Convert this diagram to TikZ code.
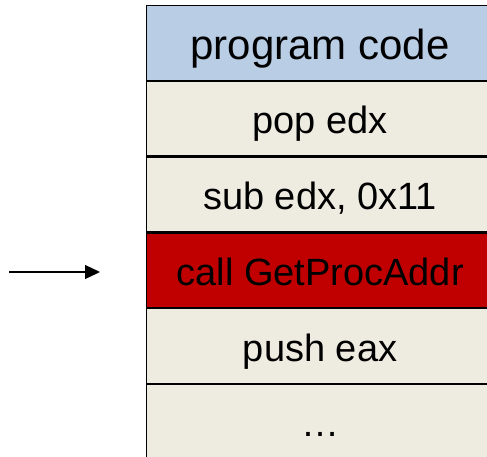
\documentclass[tikz,border=0pt]{standalone}
\usepackage{fontspec}
\setmainfont{Liberation Sans}
\usetikzlibrary{positioning, arrows.meta}

\definecolor{headblue}{HTML}{B9CDE5}
\definecolor{rowbeige}{HTML}{EEECE1}
\definecolor{hotred}{HTML}{C00000}

\begin{document}
\begin{tikzpicture}[
    x=1pt, y=1pt,
    node distance=0pt,
    row/.style={draw, line width=1.2pt, fill=rowbeige, minimum width=348pt, minimum height=74.6pt,
      inner sep=0pt, text height=30pt, text depth=0pt, font=\fontsize{38}{41}\selectfont},
    head/.style={row, fill=headblue, text height=33pt, font=\fontsize{42}{46}\selectfont},
    hot/.style={row, fill=hotred},
    >={Triangle[length=15pt, width=14pt]}
]
  \clip (0,0) rectangle (487,-456);
  \useasboundingbox (0,0) rectangle (487,-456);

  \node[head, anchor=north west] (hdr) at (145.5,-5) {program code};
  \node[row, below=of hdr] (pop) {pop edx};
  \node[row, below=of pop] (sub) {sub edx, 0x11};
  \node[hot, below=of sub] (call) {call GetProcAddr};
  \node[row, below=of call] (push) {push eax};
  \node[row, below=of push] (more) {…};

  \coordinate (src) at (9,-272);
  \coordinate (dst) at (100,-272);
  \draw[->, line width=1.3pt] (src) -- (dst);
\end{tikzpicture}
\end{document}
